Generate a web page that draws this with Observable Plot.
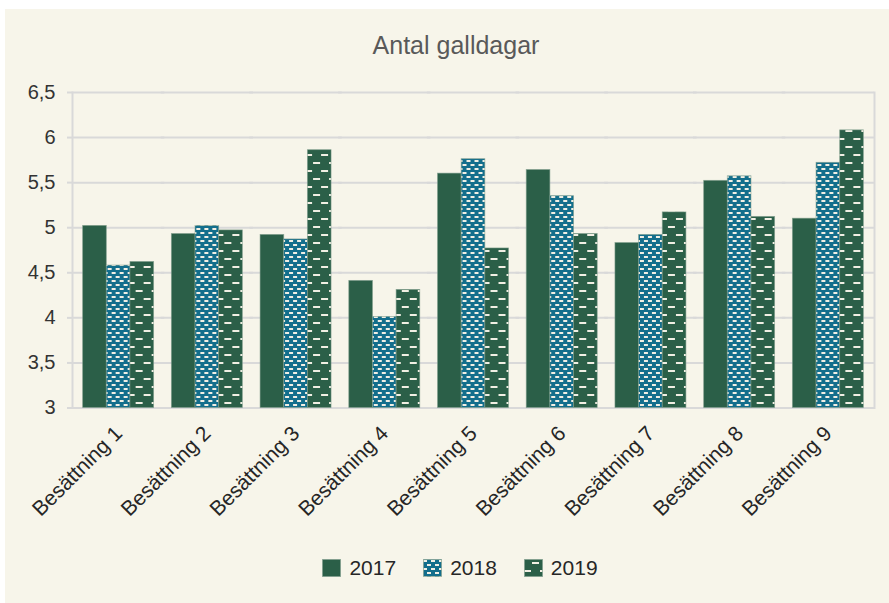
<!DOCTYPE html>
<html>
<head>
<meta charset="utf-8">
<script src="https://cdn.jsdelivr.net/npm/d3@7"></script>
<script src="https://cdn.jsdelivr.net/npm/@observablehq/plot@0.6"></script>
<style>
  body { margin: 0; background: #ffffff; font-family: "Liberation Sans", Arial, sans-serif; }
  #panel { position: relative; margin: 9px 0 0 5px; width: 884px; height: 594px; background: #f7f5ea; overflow: hidden; }
  #title { height: 46px; padding-top: 24px; padding-left: 18px; text-align: center; font-size: 25px; line-height: 24px; color: #595959; }
  #chart svg { display: block; }
  #legend { display: flex; justify-content: center; align-items: center; padding-left: 26px; gap: 27px; margin-top: 8px; font-size: 21px; line-height: 22px; color: #262626; }
  .item { display: flex; align-items: center; gap: 8px; }
  .item svg { display: block; }
</style>
</head>
<body>
<svg width="0" height="0" style="position:absolute">
  <defs>
    <pattern id="p2018" patternUnits="userSpaceOnUse" width="8" height="8">
      <rect width="8" height="8" fill="#136e8c"></rect>
      <rect x="0" y="1" width="4" height="2" fill="#f1efe4"></rect>
      <rect x="4" y="5" width="4" height="2" fill="#f1efe4"></rect>
    </pattern>
    <pattern id="p2019" patternUnits="userSpaceOnUse" width="16" height="16">
      <rect width="16" height="16" fill="#2b5f48"></rect>
      <rect x="8" y="3" width="7" height="2" fill="#f1efe4"></rect>
      <rect x="0" y="11" width="7" height="2" fill="#f1efe4"></rect>
    </pattern>
  </defs>
</svg>
<div id="panel">
  <div id="title">Antal galldagar</div>
  <div id="chart"></div>
  <div id="legend"></div>
</div>
<script>
const categories = ["Besättning 1", "Besättning 2", "Besättning 3", "Besättning 4", "Besättning 5", "Besättning 6", "Besättning 7", "Besättning 8", "Besättning 9"];
const years = ["2017", "2018", "2019"];
const values2017 = [5.02, 4.93, 4.92, 4.41, 5.60, 5.64, 4.83, 5.52, 5.10];
const values2018 = [4.58, 5.02, 4.87, 4.01, 5.76, 5.35, 4.92, 5.57, 5.72];
const values2019 = [4.62, 4.97, 5.86, 4.31, 4.77, 4.93, 5.17, 5.12, 6.08];
const yTicks = [3, 3.5, 4, 4.5, 5, 5.5, 6, 6.5];
const yDomain = [3, 6.5];
const fills = ["#2b5f48", "url(#p2018)", "url(#p2019)"];

const series = [values2017, values2018, values2019];
const data = categories.flatMap((c, i) => years.map((y, j) => ({cat: c, year: y, value: series[j][i]})));

const W = 884, H = 470, mL = 67, mR = 15, mT = 13, mB = 141.5;
const pInner = 0.2, pOuter = 0.12;
const step = (W - mL - mR) / (categories.length - pInner + 2 * pOuter);
const ext = pOuter * step; // reach from a facet band out to the frame edge

const grid = "#d9d9d9";
const chart = Plot.plot({
  width: W,
  height: H,
  marginTop: mT,
  marginBottom: mB,
  marginLeft: mL,
  marginRight: mR,
  style: {background: "transparent", fontFamily: "Liberation Sans, Arial, sans-serif", fontSize: "20px"},
  fx: {domain: categories, paddingInner: pInner, paddingOuter: pOuter, round: false, label: null},
  x: {domain: years, padding: 0, round: false, axis: null},
  y: {domain: yDomain, label: null},
  color: {domain: years, range: fills},
  marks: [
    Plot.ruleY(yTicks, {y: d => d, stroke: grid, strokeWidth: 2, insetLeft: -ext, insetRight: -ext}),
    Plot.frame({anchor: "left", facetAnchor: "left", dx: -ext, stroke: grid, strokeWidth: 2}),
    Plot.frame({anchor: "right", facetAnchor: "right", dx: ext, stroke: grid, strokeWidth: 2}),
    Plot.barY(data, {fx: "cat", x: "year", y1: yDomain[0], y2: "value", fill: "year", stroke: "#7f9d8b", strokeWidth: 0.8, strokeOpacity: 0.7}),
    Plot.axisY({ticks: yTicks, tickFormat: d => String(d).replace(".", ","), tickSize: 5, tickPadding: 12, dx: -ext, stroke: grid, strokeWidth: 2, fill: "#333333", fontSize: 20, label: null}),
    Plot.axisFx({anchor: "bottom", tickRotate: -45, tickSize: 0, tickPadding: 22, fontSize: 21, fill: "#262626", label: null})
  ]
});
document.getElementById("chart").appendChild(chart);

const legend = document.getElementById("legend");
years.forEach((y, i) => {
  const item = document.createElement("div");
  item.className = "item";
  item.innerHTML = `<svg width="19" height="18"><rect x="0.5" y="0.5" width="18" height="17" fill="${fills[i]}" stroke="#7f9d8b" stroke-opacity="0.7"></rect></svg><span>${y}</span>`;
  legend.appendChild(item);
});
</script>
</body>
</html>
